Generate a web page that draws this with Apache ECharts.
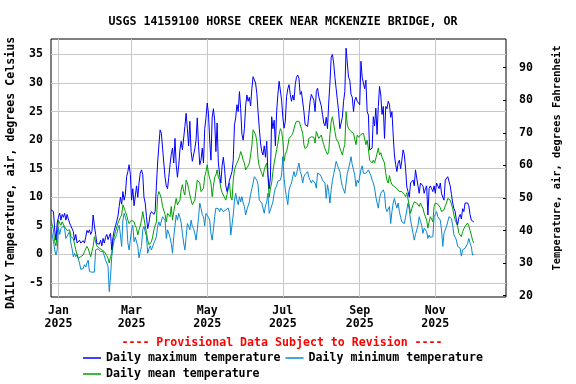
<!DOCTYPE html>
<html>
<head>
<meta charset="utf-8">
<script src="https://cdn.jsdelivr.net/npm/echarts@6/dist/echarts.min.js"></script>
<style>
html,body{margin:0;padding:0;background:#fff;}
#chart{width:576px;height:384px;}
</style>
</head>
<body>
<div id="chart"></div>
<script>
// Daily series start on 2024-12-26; axis runs 2024-12-26 .. 2025-12-28
const startDate = '2024-12-26';
const axisDays = 368;
const monthNames = ['Jan','Feb','Mar','Apr','May','Jun','Jul','Aug','Sep','Oct','Nov','Dec'];
const labelMonths = [0, 2, 4, 6, 8, 10];
const celsiusTicks = [-5, 0, 5, 10, 15, 20, 25, 30, 35];
const fahrenheitTicks = [20, 30, 40, 50, 60, 70, 80, 90];

const dailyMax = [
7.8,7.6,7.5,4.3,2.5,5.5,6.5,7.2,6.0,7.0,6.5,7.2,6.0,7.0,6.2,5.5,5.0,5.2,4.0,2.5,
3.5,2.0,1.7,2.5,2.0,1.8,2.4,2.0,3.0,4.2,3.8,4.3,3.5,4.0,6.9,5.0,3.5,1.9,2.0,1.8,
2.5,1.5,2.8,2.0,3.0,3.5,2.6,3.2,3.7,0.8,3.0,4.2,5.0,5.8,6.7,8.4,10.0,8.8,11.0,9.5,
10.5,13.6,14.5,15.7,14.0,9.5,11.5,8.5,8.4,12.0,10.0,12.5,14.2,14.8,14.0,10.0,9.0,6.6,4.5,5.5,
7.0,7.5,7.2,7.0,7.5,12.0,16.0,19.0,21.8,21.2,18.6,16.0,13.5,12.0,11.5,13.5,15.7,17.5,18.6,16.0,
20.3,15.7,13.5,15.5,18.3,19.8,18.3,18.0,22.4,24.7,22.0,19.0,23.3,18.0,16.3,16.5,18.5,20.0,23.9,19.0,
15.7,16.5,18.6,16.0,22.0,23.9,26.5,24.7,20.0,16.5,23.9,25.5,23.5,18.0,23.0,16.0,14.0,12.5,15.5,17.0,
15.0,12.0,11.0,12.0,13.0,13.0,14.5,16.5,22.7,24.0,26.2,25.0,28.5,25.5,21.0,20.0,22.0,26.0,27.9,26.8,
27.5,26.0,29.0,31.1,31.4,30.0,28.2,25.0,22.1,19.5,18.0,17.4,19.0,17.0,19.8,14.0,11.5,13.5,24.1,22.0,
23.5,19.0,25.0,28.0,30.3,30.6,27.0,24.0,22.1,23.3,27.6,29.0,29.7,28.0,26.8,27.9,27.0,29.7,31.0,31.4,
30.8,28.0,28.5,28.8,25.0,22.7,22.4,22.4,24.5,26.8,28.0,28.2,27.0,25.0,28.5,29.1,27.6,27.6,26.0,24.5,
23.0,22.5,24.0,22.0,26.5,30.0,34.5,35.0,33.5,31.0,29.0,27.0,25.0,22.0,23.0,24.0,26.8,28.5,36.1,33.5,
31.0,30.5,28.0,27.5,25.0,27.0,27.5,26.8,27.0,26.2,33.8,31.0,30.8,29.0,30.5,25.0,24.4,18.3,18.6,18.6,
24.1,22.5,25.6,21.0,25.9,29.4,27.9,24.5,25.9,20.3,25.9,25.5,26.8,26.2,24.0,25.0,20.9,17.4,15.7,14.5,
16.0,16.5,15.0,16.5,18.3,17.5,15.0,11.8,11.0,10.0,12.5,12.8,13.0,12.0,14.8,14.5,12.0,10.7,12.5,12.5,
12.0,10.7,11.5,12.0,6.9,11.6,12.0,11.5,11.0,12.0,10.7,12.5,12.0,11.5,12.5,10.7,10.0,9.5,13.0,13.3,
13.6,13.9,12.0,10.5,9.0,8.0,7.5,6.0,5.2,6.5,7.0,6.2,8.0,7.5,9.0,9.3,9.0,8.5,7.0,6.0,
5.8,5.7
];

const dailyMin = [
4.6,4.6,2.2,0.8,-0.1,0.8,4.8,3.5,4.5,4.3,5.0,4.5,2.8,3.2,3.5,4.0,2.0,1.0,-0.4,0.2,
-0.4,0.0,-0.2,-1.5,-2.6,-2.8,-2.5,-1.8,-2.2,-1.5,-1.0,-3.0,-3.0,-3.1,-3.0,-3.1,0.8,1.0,1.0,0.8,
0.5,0.7,0.5,0.2,-1.0,-1.5,-2.1,-6.5,-3.9,-0.4,1.4,2.5,2.5,3.5,4.5,5.1,3.4,1.4,6.0,7.2,
6.5,5.7,2.0,0.8,2.5,4.3,5.1,2.2,3.0,3.1,1.4,-0.6,0.5,1.4,4.3,4.9,4.0,3.1,0.2,1.0,
1.5,0.8,1.1,2.0,2.5,3.1,4.9,5.7,5.0,4.9,6.6,6.3,6.0,2.8,4.3,3.7,3.0,1.9,0.2,3.1,
5.0,6.9,6.0,7.2,6.5,5.5,3.7,2.0,0.8,3.1,5.4,5.0,4.3,6.0,4.9,4.5,3.7,2.5,4.3,6.5,
9.0,8.1,7.0,6.6,5.0,7.2,7.5,6.5,6.0,3.7,2.5,4.3,6.6,8.1,8.4,8.0,7.5,8.1,7.8,7.5,
7.2,7.8,8.0,8.1,7.2,3.4,3.1,6.9,9.5,10.7,9.5,8.7,10.1,9.2,10.1,9.0,8.4,6.9,7.8,8.5,
9.2,10.5,11.5,12.5,13.6,13.3,13.0,12.2,9.5,9.2,9.0,8.7,7.2,8.5,9.2,10.7,7.2,7.8,8.5,9.2,
10.7,11.6,12.0,12.8,12.5,13.0,13.9,17.1,13.3,11.3,10.0,8.7,11.3,12.0,12.5,13.6,14.5,13.6,14.0,15.1,
16.0,14.5,13.9,12.5,13.6,14.0,14.2,14.5,13.5,13.0,12.5,13.0,12.8,12.5,11.6,14.2,14.5,14.0,13.6,13.0,
12.8,12.5,9.8,12.2,11.0,9.0,11.3,13.0,14.0,15.1,16.3,15.7,15.0,14.5,13.0,11.9,11.3,10.7,12.5,14.2,
15.0,16.0,17.1,15.7,14.8,13.9,11.9,13.0,12.5,12.2,14.8,15.5,14.2,14.5,14.2,14.5,14.8,14.6,13.8,13.0,
12.5,11.6,10.1,9.0,8.1,9.8,10.7,11.0,11.3,10.7,8.1,7.5,7.2,8.4,5.4,7.5,9.0,9.8,8.8,8.1,
9.0,7.5,6.5,5.7,5.4,5.4,6.5,7.8,9.0,7.8,6.0,4.9,3.7,2.5,3.5,4.3,5.1,6.6,5.8,5.1,
3.7,4.6,4.3,4.0,2.8,3.4,3.0,2.8,3.1,6.6,7.0,7.5,6.6,6.3,6.0,4.3,1.4,3.7,4.3,4.9,
5.7,6.6,6.4,6.3,5.1,3.4,3.0,2.5,1.4,1.2,1.1,-0.3,0.8,1.0,1.1,1.4,1.9,2.8,2.0,1.4,
-0.1,0.0
];

const dailyMean = [
6.0,6.0,4.3,2.2,1.5,3.5,6.0,5.5,5.1,5.7,5.7,4.8,4.6,4.2,4.0,4.3,3.1,3.4,2.8,1.8,
0.8,0.5,-0.7,-0.7,-0.4,-0.1,-0.1,0.5,0.8,1.4,1.0,0.8,-0.4,0.5,1.4,3.1,2.2,1.5,1.4,1.1,
0.8,0.8,0.8,0.5,0.2,-0.2,-0.7,-1.5,-0.4,0.2,2.5,3.1,4.0,4.3,5.5,5.7,6.5,6.9,8.7,8.1,
7.5,6.9,6.0,5.4,5.4,6.0,6.3,5.7,5.0,4.6,3.4,4.3,5.0,6.0,7.5,7.2,5.0,3.8,2.5,1.7,
2.0,2.2,3.1,4.3,5.0,5.7,10.1,11.0,10.5,9.8,8.4,8.1,7.0,5.7,7.2,7.0,6.6,8.4,6.0,7.5,
8.7,9.8,8.7,9.0,9.5,11.3,12.2,11.0,10.4,13.0,12.5,11.5,10.4,9.5,8.7,9.0,9.5,11.3,13.0,12.8,
12.5,11.0,10.7,11.6,13.6,14.5,15.7,14.2,13.3,12.5,10.1,11.9,13.5,13.9,14.8,13.5,13.0,11.6,10.8,10.4,
10.1,9.5,10.5,10.5,12.5,10.0,9.5,13.0,14.8,15.5,16.0,16.5,17.1,18.0,17.4,16.5,16.0,14.8,15.1,15.5,
16.0,17.4,19.0,21.8,22.1,21.0,19.8,16.8,15.4,14.8,14.2,13.6,14.8,15.5,16.0,13.5,10.0,11.6,12.5,14.5,
16.0,17.1,18.3,19.5,21.0,22.0,21.5,20.0,16.3,17.5,18.0,19.0,20.3,20.3,20.8,21.2,22.0,22.8,23.3,23.0,
23.3,22.7,22.0,21.2,19.2,18.5,18.3,19.0,20.3,20.5,20.6,20.9,20.5,19.5,21.5,21.5,20.3,20.6,20.9,20.0,
19.2,18.5,18.0,17.5,18.0,21.0,23.3,24.1,22.8,21.5,20.3,20.3,19.5,18.6,18.0,17.4,18.5,19.2,25.0,22.7,
22.0,21.8,21.5,21.8,21.2,20.9,19.2,20.9,20.5,20.3,21.0,21.2,21.2,20.9,19.2,20.0,18.5,16.5,16.3,16.0,
16.5,16.0,16.8,17.1,18.6,17.4,17.8,17.0,16.8,16.0,14.2,13.0,12.5,13.8,12.8,12.2,12.5,11.9,11.6,11.5,
11.3,11.0,10.7,11.0,10.7,10.5,10.1,10.8,10.5,8.5,7.2,8.0,8.7,9.2,9.5,9.0,9.0,8.4,9.0,8.5,
8.1,7.2,6.6,6.0,4.6,5.7,6.6,6.2,5.7,8.4,9.0,9.2,8.8,9.0,8.2,7.5,7.2,7.8,8.5,9.0,
9.8,10.1,9.5,8.8,8.0,6.9,6.0,5.5,4.9,3.7,3.5,3.1,4.0,4.5,4.9,4.7,5.5,5.0,4.2,3.4,
2.5,2.0
];

// build the category list (dates) for the x axis
const categories = [];
{
  const d0 = new Date(startDate + 'T00:00:00Z');
  for (let i = 0; i < axisDays; i++) {
    const d = new Date(d0.getTime() + i * 86400000);
    categories.push(d.toISOString().slice(0, 10));
  }
}
function isLabelDay(idx, val) {
  const m = parseInt(val.slice(5, 7), 10) - 1;
  const day = parseInt(val.slice(8, 10), 10);
  return day === 1 && labelMonths.indexOf(m) >= 0;
}

const FONT = '"DejaVu Sans Mono", "Liberation Mono", monospace';
const txt = { fontFamily: FONT, fontWeight: 'bold', fontSize: 11.6, color: '#000' };

const chart = echarts.init(document.getElementById('chart'), null, { renderer: 'canvas' });
chart.setOption({
  animation: false,
  backgroundColor: '#fff',
  title: {
    text: 'USGS 14159100 HORSE CREEK NEAR MCKENZIE BRIDGE, OR',
    left: 278, top: 11, textAlign: 'center',
    textStyle: Object.assign({}, txt)
  },
  grid: { left: 51, right: 70, top: 39, bottom: 87, show: true, borderColor: '#000', borderWidth: 1, backgroundColor: 'transparent', containLabel: false, outerBoundsMode: 'none' },
  legend: [
    { data: ['Daily maximum temperature', 'Daily minimum temperature'], left: 78, top: 347, itemWidth: 18, itemHeight: 1.5, itemGap: 5, icon: 'rect', textStyle: Object.assign({}, txt) },
    { data: ['Daily mean temperature'], left: 78, top: 363, itemWidth: 18, itemHeight: 1.5, icon: 'rect', textStyle: Object.assign({}, txt) }
  ],
  graphic: [
    {
      type: 'text', x: 282, y: 343,
      style: { text: '---- Provisional Data Subject to Revision ----', fill: '#ff0000', font: 'bold 11.6px ' + FONT, textAlign: 'center', textVerticalAlign: 'middle' }
    },
    {
      type: 'text', x: 11, y: 173, rotation: Math.PI / 2,
      style: { text: 'DAILY Temperature, air, degrees Celsius', fill: '#000', font: 'bold 11.6px ' + FONT, textAlign: 'center', textVerticalAlign: 'middle' }
    },
    {
      type: 'text', x: 557, y: 158, rotation: Math.PI / 2,
      style: { text: 'Temperature, air, degrees Fahrenheit', fill: '#000', font: 'bold 10.4px ' + FONT, textAlign: 'center', textVerticalAlign: 'middle' }
    }
  ],
  xAxis: {
    type: 'category', data: categories, boundaryGap: false,
    axisLine: { show: false }, axisTick: { show: false },
    axisLabel: { interval: isLabelDay, margin: 8, lineHeight: 12.5, formatter: function (v) { const m = parseInt(v.slice(5, 7), 10) - 1; return monthNames[m] + '\n' + v.slice(0, 4); }, fontFamily: FONT, fontWeight: 'bold', fontSize: 11.6, color: '#000' },
    splitLine: { show: true, interval: isLabelDay, lineStyle: { color: '#c8c8c8', width: 1 } }
  },
  yAxis: [
    {
      type: 'value', min: -7.45, max: 37.7, position: 'left',
      axisLine: { show: false },
      axisTick: { show: false, customValues: celsiusTicks },
      axisLabel: { customValues: celsiusTicks, margin: 8, fontFamily: FONT, fontWeight: 'bold', fontSize: 11.6, color: '#000' },
      splitLine: { show: true, lineStyle: { color: '#c8c8c8', width: 1 } }
    },
    {
      type: 'value', min: 19.6, max: 98.8, position: 'right',
      axisLine: { show: false },
      axisTick: { show: true, inside: true, length: 3, customValues: fahrenheitTicks, lineStyle: { color: '#000' } },
      axisLabel: { customValues: fahrenheitTicks, margin: 13, fontFamily: FONT, fontWeight: 'bold', fontSize: 11.6, color: '#000' },
      splitLine: { show: false }
    }
  ],
  series: [
    { name: 'Daily maximum temperature', type: 'line', data: dailyMax, showSymbol: false, symbol: 'none', lineStyle: { color: '#0000ff', width: 1 }, itemStyle: { color: '#0000ff' }, z: 3 },
    { name: 'Daily minimum temperature', type: 'line', data: dailyMin, showSymbol: false, symbol: 'none', lineStyle: { color: '#0a88d2', width: 1 }, itemStyle: { color: '#0a88d2' }, z: 2 },
    { name: 'Daily mean temperature', type: 'line', data: dailyMean, showSymbol: false, symbol: 'none', lineStyle: { color: '#00a000', width: 1 }, itemStyle: { color: '#00a000' }, z: 2 }
  ]
});
</script>
</body>
</html>
